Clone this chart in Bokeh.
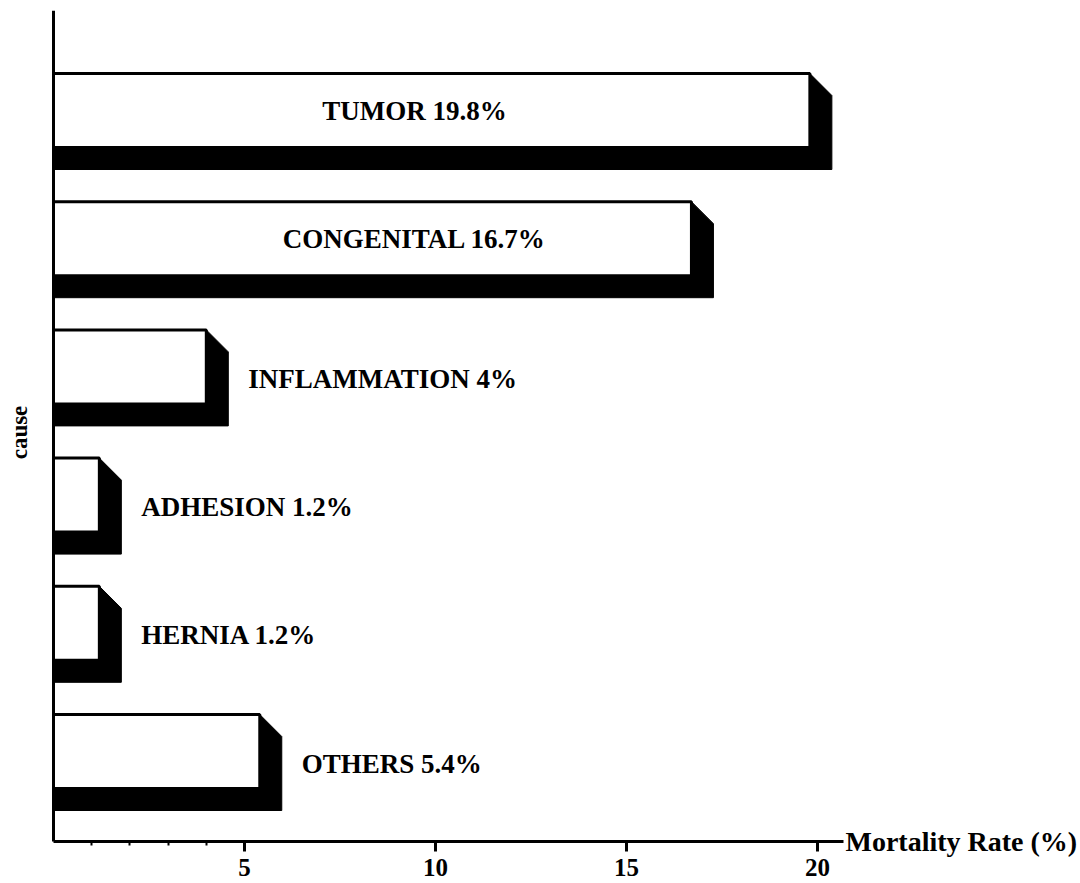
import math
from bokeh.plotting import figure
from bokeh.models import Range1d, FixedTicker, ColumnDataSource
from bokeh.core.properties import value
from bokeh.embed import file_html
from bokeh.resources import INLINE

# ---- data ----
causes = ["TUMOR", "CONGENITAL", "INFLAMMATION", "ADHESION", "HERNIA", "OTHERS"]
rates = [19.8, 16.7, 4, 1.2, 1.2, 5.4]
tick_values = [5, 10, 15, 20]
minor_tick_values = [1, 2, 3, 4]
x_title = "Mortality Rate (%)"
y_title = "cause"

# ---- layout / style constants ----
PX_X = 38.2      # px per x unit
PX_Y = 128.2     # px per category
FONT = "Liberation Serif"
W, H = 1080, 883
AXIS_X_PX = 53   # y axis position (x=0)
FRAME_T, FRAME_R = 10, 1079
AXIS_Y_PX = 841
X_START = -AXIS_X_PX / PX_X
X_END = (FRAME_R - AXIS_X_PX) / PX_X
X_AXIS_END = (843 - AXIS_X_PX) / PX_X
Y_AXIS = -(AXIS_Y_PX - 751) / PX_Y
Y_START = Y_AXIS - (H - AXIS_Y_PX) / PX_Y
Y_END = 5 + (110 - FRAME_T) / PX_Y
FACE_H = 74 / PX_Y
DX = 22 / PX_X
DY = 22 / PX_Y
INSIDE_CENTER = 9.45
Y_TITLE_Y = Y_AXIS + (AXIS_Y_PX - 432) / PX_Y

n = len(causes)
yc = [n - 1 - i for i in range(n)]
yt = [y + FACE_H / 2 for y in yc]
yb = [y - FACE_H / 2 for y in yc]

p = figure(width=W, height=H, x_range=Range1d(X_START, X_END), y_range=Range1d(Y_START, Y_END),
           output_backend="svg", toolbar_location=None,
           min_border_left=0, min_border_right=W - FRAME_R,
           min_border_top=FRAME_T, min_border_bottom=0)
p.grid.visible = False
p.outline_line_color = None
p.background_fill_color = "white"

# shadows
xs, ys = [], []
for r, t, b in zip(rates, yt, yb):
    xs.append([0, r, r, r + DX, r + DX, 0])
    ys.append([b, b, t, t - DY, b - DY, b - DY])
p.patches(xs, ys, fill_color="black", line_color="black", line_width=1)

# faces
p.quad(left=[0] * n, right=rates, bottom=yb, top=yt, fill_color="white",
       line_color="black", line_width=3)

labels = [f"{c} {r:g}%" for c, r in zip(causes, rates)]
inside = [i for i in range(n) if rates[i] > 10]
outside = [i for i in range(n) if rates[i] <= 10]

src_in = ColumnDataSource(dict(x=[INSIDE_CENTER] * len(inside), y=[yc[i] for i in inside],
                               t=[labels[i] for i in inside]))
p.text(x="x", y="y", text="t", source=src_in, text_font=value(FONT), text_font_style="bold",
       text_font_size="27px", text_align="center", text_baseline="middle", text_color="black")

src_out = ColumnDataSource(dict(x=[rates[i] for i in outside], y=[yc[i] - 12 / PX_Y for i in outside],
                                t=[labels[i] for i in outside]))
p.text(x="x", y="y", text="t", source=src_out, text_font=value(FONT), text_font_style="bold",
       text_font_size="27px", text_align="left", text_baseline="middle", text_color="black",
       x_offset=42)

# axis titles
p.text(x=[X_AXIS_END], y=[Y_AXIS], text=[x_title], text_font=value(FONT), text_font_style="bold",
       text_font_size="28px", text_align="left", text_baseline="middle", text_color="black",
       x_offset=2)
p.text(x=[0], y=[Y_TITLE_Y], text=[y_title], text_font=value(FONT), text_font_style="bold",
       text_font_size="23px", text_align="center", text_baseline="middle", text_color="black",
       angle=math.pi / 2, x_offset=-34)

# x axis
xa = p.xaxis[0]
xa.fixed_location = Y_AXIS
xa.bounds = (0, X_AXIS_END)
xa.ticker = FixedTicker(ticks=tick_values, minor_ticks=minor_tick_values)
xa.axis_line_width = 3
xa.axis_line_color = "black"
xa.major_tick_in = 0
xa.major_tick_out = 10
xa.major_tick_line_width = 3
xa.minor_tick_in = 0
xa.minor_tick_out = 4
xa.minor_tick_line_width = 2
xa.major_label_text_font = FONT
xa.major_label_text_font_style = "bold"
xa.major_label_text_font_size = "25px"
xa.major_label_text_color = "black"
xa.major_label_standoff = 7

# y axis
ya = p.yaxis[0]
ya.fixed_location = 0
ya.bounds = (Y_AXIS, Y_END)
ya.ticker = FixedTicker(ticks=[])
ya.axis_line_width = 3
ya.axis_line_color = "black"
ya.major_tick_line_color = None
ya.minor_tick_line_color = None
ya.major_label_text_font_size = "0px"

open("out.html", "w").write(file_html(p, INLINE))
